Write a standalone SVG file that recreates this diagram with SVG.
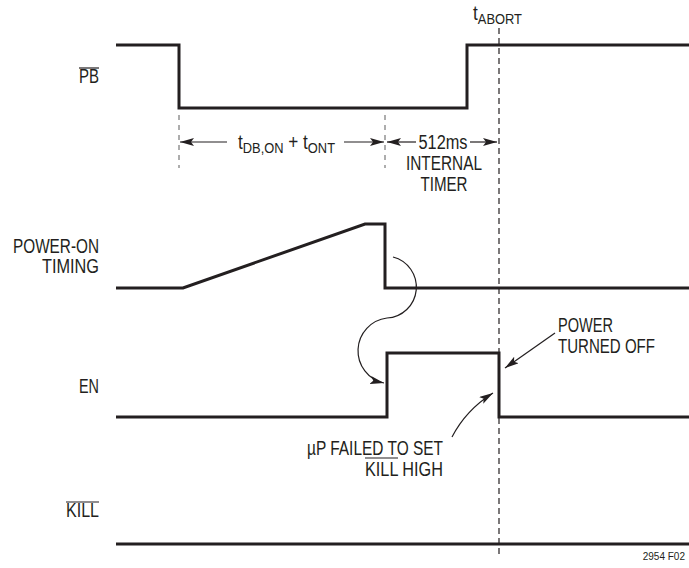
<svg xmlns="http://www.w3.org/2000/svg" width="689" height="568" viewBox="0 0 689 568">
<style>
.t{font-family:"Liberation Sans",Arial,sans-serif;font-size:20px;fill:#231f20}
.s{font-size:15px}
.fig{font-family:"Liberation Sans",Arial,sans-serif;font-size:10px;fill:#231f20}
.w{fill:none;stroke:#231f20;stroke-width:3;stroke-linejoin:miter}
.ov{stroke:#231f20;stroke-width:1.2}
.dash{fill:none;stroke:#231f20;stroke-width:1.2;stroke-dasharray:6,4}
.gd{fill:none;stroke:#777;stroke-width:1.2;stroke-dasharray:5,5}
.c{fill:none;stroke:#231f20;stroke-width:1.2}
</style>
<defs>
<marker id="ah" viewBox="0 0 14 8" refX="14" refY="4" markerWidth="14" markerHeight="8" markerUnits="userSpaceOnUse" orient="auto">
<path d="M0,0 L14,4 L0,8 L3,4 z" fill="#231f20"/>
</marker>
</defs>
<rect width="689" height="568" fill="#fff"/>

<g id="sig-pb">
<path class="w" d="M116,45 H179 V108 H467 V45 H689"/>
<text class="t" x="99" y="83" text-anchor="end" textLength="20" lengthAdjust="spacingAndGlyphs">PB</text>
<line class="ov" x1="79" y1="68" x2="99" y2="68"/>
</g>

<g id="sig-poweron">
<path class="w" d="M116,288 H183 L365,224 H385 V288 H689"/>
<text class="t" x="99" y="253" text-anchor="end" textLength="86" lengthAdjust="spacingAndGlyphs">POWER-ON</text>
<text class="t" x="99" y="273" text-anchor="end" textLength="57" lengthAdjust="spacingAndGlyphs">TIMING</text>
</g>

<g id="sig-en">
<path class="w" d="M116,417 H387 V353 H499 V417 H689"/>
<text class="t" x="99" y="393" text-anchor="end" textLength="20" lengthAdjust="spacingAndGlyphs">EN</text>
</g>

<g id="sig-kill">
<path class="w" d="M116,544 H689"/>
<text class="t" x="99" y="517" text-anchor="end" textLength="33" lengthAdjust="spacingAndGlyphs">KILL</text>
<line class="ov" x1="66" y1="502" x2="99" y2="502"/>
</g>

<g id="tabort">
<line class="dash" x1="499" y1="28" x2="499" y2="558"/>
<text class="t" x="473" y="20" textLength="49" lengthAdjust="spacingAndGlyphs">t<tspan class="s" dy="4">ABORT</tspan></text>
</g>

<g id="timing-labels">
<line class="gd" x1="179" y1="115" x2="179" y2="168"/>
<line class="gd" x1="385" y1="115" x2="385" y2="168"/>
<text class="t" x="238" y="149" textLength="97" lengthAdjust="spacingAndGlyphs">t<tspan class="s" dy="4">DB,ON</tspan><tspan dy="-4"> + t</tspan><tspan class="s" dy="4">ONT</tspan></text>
<text class="t" x="443" y="149" text-anchor="middle" textLength="49" lengthAdjust="spacingAndGlyphs">512ms</text>
<text class="t" x="444" y="170" text-anchor="middle" textLength="76" lengthAdjust="spacingAndGlyphs">INTERNAL</text>
<text class="t" x="444" y="191" text-anchor="middle" textLength="47" lengthAdjust="spacingAndGlyphs">TIMER</text>
</g>

<g id="note-power-off">
<text class="t" x="558" y="332" textLength="55" lengthAdjust="spacingAndGlyphs">POWER</text>
<text class="t" x="558" y="353" textLength="97" lengthAdjust="spacingAndGlyphs">TURNED OFF</text>
</g>

<g id="note-failed">
<text class="t" x="443" y="455" text-anchor="end" textLength="136" lengthAdjust="spacingAndGlyphs">µP FAILED TO SET</text>
<text class="t" x="443" y="476" text-anchor="end" textLength="78" lengthAdjust="spacingAndGlyphs">KILL HIGH</text>
<line class="ov" x1="365" y1="458" x2="398" y2="458"/>
</g>

<g id="connectors">
<line class="c" x1="227" y1="142" x2="180" y2="142" marker-end="url(#ah)"/>
<line class="c" x1="344" y1="142" x2="384" y2="142" marker-end="url(#ah)"/>
<line class="c" x1="416" y1="142" x2="387" y2="142" marker-end="url(#ah)"/>
<line class="c" x1="470" y1="142" x2="497" y2="142" marker-end="url(#ah)"/>
<path class="c" d="M393,257 A31,31 0 0 1 387,318 A33,33 0 0 0 384,383" marker-end="url(#ah)"/>
<line class="c" x1="555" y1="333" x2="505" y2="368" marker-end="url(#ah)"/>
<path class="c" d="M452,437 Q466,410 493,393" marker-end="url(#ah)"/>
</g>

<text class="fig" x="685" y="560" text-anchor="end">2954 F02</text>
</svg>
